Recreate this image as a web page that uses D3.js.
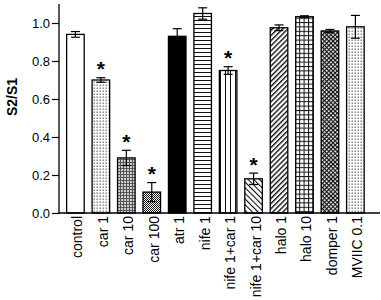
<!DOCTYPE html>
<html><head><meta charset="utf-8">
<script src="https://cdn.jsdelivr.net/npm/d3@7"></script>
<style>body{margin:0;background:#fff}svg{display:block}</style>
</head><body>
<svg id="c" width="381" height="300"></svg>
<script>
const categories=["control","car 1","car 10","car 100","atr 1","nife 1","nife 1+car 1","nife 1+car 10","halo 1","halo 10","domper 1","MVIIC 0.1"];
const values=[0.94,0.70,0.29,0.11,0.93,1.05,0.75,0.18,0.975,1.033,0.958,0.98];
const errors=[0.015,0.012,0.04,0.05,0.04,0.03,0.02,0.03,0.015,0.005,0.008,0.06];
const significant=[false,true,true,true,false,false,true,true,false,false,false,false];
const fills=["white","dots","gridfine","checker","black","hlines","vlines","diagback","diagfwd","grid","cross","dots"];
const yTicks=[0,0.2,0.4,0.6,0.8,1.0];

const svg=d3.select("#c");
const font="Liberation Sans, Arial, Helvetica, sans-serif";
const defs=svg.append("defs");
function pat(id,w,h,tr){const p=defs.append("pattern").attr("id",id).attr("patternUnits","userSpaceOnUse").attr("width",w).attr("height",h);if(tr)p.attr("patternTransform",tr);p.append("rect").attr("width",w).attr("height",h).attr("fill","#fff");return p;}
let p;
p=pat("dots",3,3);p.append("rect").attr("x",0.5).attr("y",0.5).attr("width",1.4).attr("height",1.4).attr("fill","#777");
p=pat("gridfine",3,3);p.select("rect").attr("fill","#cfcfcf");p.append("rect").attr("width",3).attr("height",1).attr("fill","#555");p.append("rect").attr("width",1).attr("height",3).attr("fill","#555");
p=pat("checker",2,2);p.append("rect").attr("width",1).attr("height",1).attr("fill","#111");p.append("rect").attr("x",1).attr("y",1).attr("width",1).attr("height",1).attr("fill","#111");
p=pat("hlines",4,4);p.append("rect").attr("width",4).attr("height",1).attr("fill","#111");
p=pat("vlines",5,5);p.append("rect").attr("width",1).attr("height",5).attr("fill","#111");
p=pat("diagback",4,4,"rotate(-45)");p.append("rect").attr("width",1.1).attr("height",4).attr("fill","#111");
p=pat("diagfwd",3.6,3.6,"rotate(45)");p.append("rect").attr("width",1.4).attr("height",3.6).attr("fill","#111");
p=pat("grid",4.4,4.4);p.append("rect").attr("width",4.4).attr("height",1).attr("fill","#111");p.append("rect").attr("width",1).attr("height",4.4).attr("fill","#111");
p=pat("cross",3,3,"rotate(45)");p.append("rect").attr("width",3).attr("height",1.2).attr("fill","#111");p.append("rect").attr("width",1.2).attr("height",3).attr("fill","#111");

const x=d3.scaleBand().domain(categories).range([59,371.8]).paddingInner(0.31).paddingOuter(0.30);
const y=d3.scaleLinear().domain([0,1.1]).range([213,4]);

const g=svg.append("g");
g.selectAll("rect.bar").data(categories).join("rect").attr("class","bar")
 .attr("x",d=>x(d)).attr("width",x.bandwidth())
 .attr("y",(d,i)=>y(values[i])).attr("height",(d,i)=>y(0)-y(values[i]))
 .attr("fill",(d,i)=>fills[i]==="white"?"#fff":fills[i]==="black"?"#000":`url(#${fills[i]})`)
 .attr("stroke","#000").attr("stroke-width",1.3);

const eb=g.selectAll("g.err").data(categories).join("g").attr("class","err").attr("stroke","#000").attr("stroke-width",1.2);
eb.append("line").attr("x1",d=>x(d)+x.bandwidth()/2).attr("x2",d=>x(d)+x.bandwidth()/2)
 .attr("y1",(d,i)=>y(values[i]-errors[i])).attr("y2",(d,i)=>y(values[i]+errors[i]));
[1,-1].forEach(s=>{
 eb.append("line").attr("x1",d=>x(d)+x.bandwidth()/2-4.5).attr("x2",d=>x(d)+x.bandwidth()/2+4.5)
 .attr("y1",(d,i)=>y(values[i]+s*errors[i])).attr("y2",(d,i)=>y(values[i]+s*errors[i]));
});

g.selectAll("text.star").data(categories.filter((d,i)=>significant[i])).join("text").attr("class","star")
 .attr("x",d=>x(d)+x.bandwidth()/2).attr("y",d=>{const i=categories.indexOf(d);return y(values[i]+errors[i])-1.5;})
 .attr("text-anchor","middle").attr("font-family",font).attr("font-weight","bold").attr("font-size",21).text("*");

const ya=svg.append("g").attr("transform","translate(59,0)")
 .call(d3.axisLeft(y).tickValues(yTicks).tickFormat(d3.format(".1f")).tickSize(7).tickPadding(2));
ya.select(".domain").attr("d","M0,4V213").attr("stroke-width",1.3);
ya.selectAll(".tick line").attr("stroke-width",1.2);
ya.selectAll("text").attr("font-family",font).attr("font-size",13).attr("fill","#000");

svg.append("line").attr("x1",58.4).attr("x2",380).attr("y1",213).attr("y2",213).attr("stroke","#000").attr("stroke-width",1.4);

svg.selectAll("text.xl").data(categories).join("text").attr("class","xl")
 .attr("transform",d=>`translate(${x(d)+x.bandwidth()/2},216) rotate(-90)`)
 .attr("dy","0.5em").attr("text-anchor","end").attr("font-family",font).attr("font-size",14).text(d=>d);

svg.append("text").attr("transform","translate(17,97) rotate(-90)").attr("text-anchor","middle")
 .attr("font-family",font).attr("font-weight","bold").attr("font-size",14).text("S2/S1");
</script>
</body></html>
